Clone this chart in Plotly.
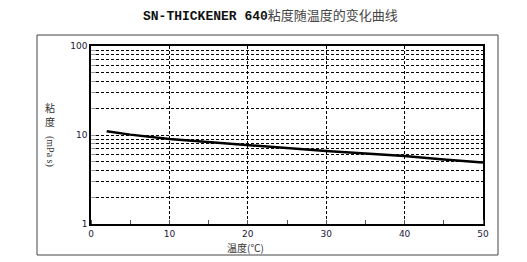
import plotly.graph_objects as go

temps = [2, 5, 10, 15, 20, 25, 30, 35, 40, 45, 50]
viscosity = [11.0, 10.1, 9.0, 8.3, 7.7, 7.1, 6.6, 6.2, 5.8, 5.3, 4.9]

x_ticks = [0, 10, 20, 30, 40, 50]
y_grid_vals = [1, 2, 3, 4, 5, 6, 7, 8, 9, 10, 20, 30, 40, 50, 60, 70, 80, 90, 100]
y_labels = ["1", "10", "100"]

title_main = "SN-THICKENER 640"
title_cn = "粘度随温度的变化曲线"
x_title = "温度(℃)"
y_title_upright = ["粘", "度"]
y_title_rotated = "(mPa s)"

W, H = 527, 262
L, R, T, B = 91, 483, 46, 224

fig = go.Figure()
fig.add_trace(go.Scatter(x=temps, y=viscosity, mode="lines",
                         line=dict(color="black", width=2.5), showlegend=False))

ticktext = [str(v) if str(v) in y_labels else "" for v in y_grid_vals]

fig.update_layout(
    width=W, height=H,
    margin=dict(l=L, r=W - R, t=T, b=H - B),
    paper_bgcolor="white", plot_bgcolor="white",
    font=dict(family="DejaVu Sans", size=9, color="#1a1a3a"),
    xaxis=dict(range=[0, 50], tickvals=x_ticks, showgrid=True, gridcolor="black",
               griddash="3px,2px", gridwidth=1, showline=True, linecolor="black",
               linewidth=1.5, mirror=True, ticks="", zeroline=False,
               tickfont=dict(family="DejaVu Sans", size=9, color="#1a1a3a"),
               minor=dict(dtick=5, tick0=0, ticks="inside", ticklen=4,
                          tickcolor="#555", showgrid=False)),
    yaxis=dict(type="log", range=[0, 2], tickvals=y_grid_vals, ticktext=ticktext,
               showgrid=True, gridcolor="black", griddash="3px,2px", gridwidth=1,
               showline=True, linecolor="black", linewidth=1.5, mirror=True,
               ticks="inside", ticklen=5, tickcolor="#999", zeroline=False,
               tickfont=dict(family="DejaVu Sans", size=9, color="#1a1a3a")),
)

pw, ph = R - L, B - T
def px(xp):
    return (xp - L) / pw
def py(yp):
    return (B - yp) / ph

fig.add_shape(type="rect", xref="paper", yref="paper",
              x0=px(37), x1=px(498), y0=py(255), y1=py(35),
              line=dict(color="#444", width=1), layer="below")

fig.add_annotation(
    xref="paper", yref="paper", x=px(270), y=py(14), showarrow=False,
    text=("<span style='font-family:Liberation Mono;font-weight:bold;color:#111'>"
          + title_main + "</span>"
          + "<span style='font-family:Noto Sans CJK SC;color:#444'>" + title_cn + "</span>"),
    font=dict(size=13, family="Liberation Mono", color="#111"),
    xanchor="center", yanchor="middle")

fig.add_annotation(xref="paper", yref="paper", x=px(245), y=py(247), showarrow=False,
                   text=x_title, font=dict(size=10, family="Noto Sans CJK SC", color="#333"),
                   xanchor="center", yanchor="middle")

for ch, yc in zip(y_title_upright, [107, 121]):
    fig.add_annotation(xref="paper", yref="paper", x=px(50), y=py(yc), showarrow=False,
                       text=ch, font=dict(size=10, family="Noto Sans CJK SC", color="#333"),
                       xanchor="center", yanchor="middle", borderpad=0)
fig.add_annotation(xref="paper", yref="paper", x=px(50), y=py(151), showarrow=False,
                   text=y_title_rotated, textangle=90,
                   font=dict(size=10, family="Liberation Serif", color="#333"),
                   xanchor="center", yanchor="middle", borderpad=0)

fig.write_html("out.html")
